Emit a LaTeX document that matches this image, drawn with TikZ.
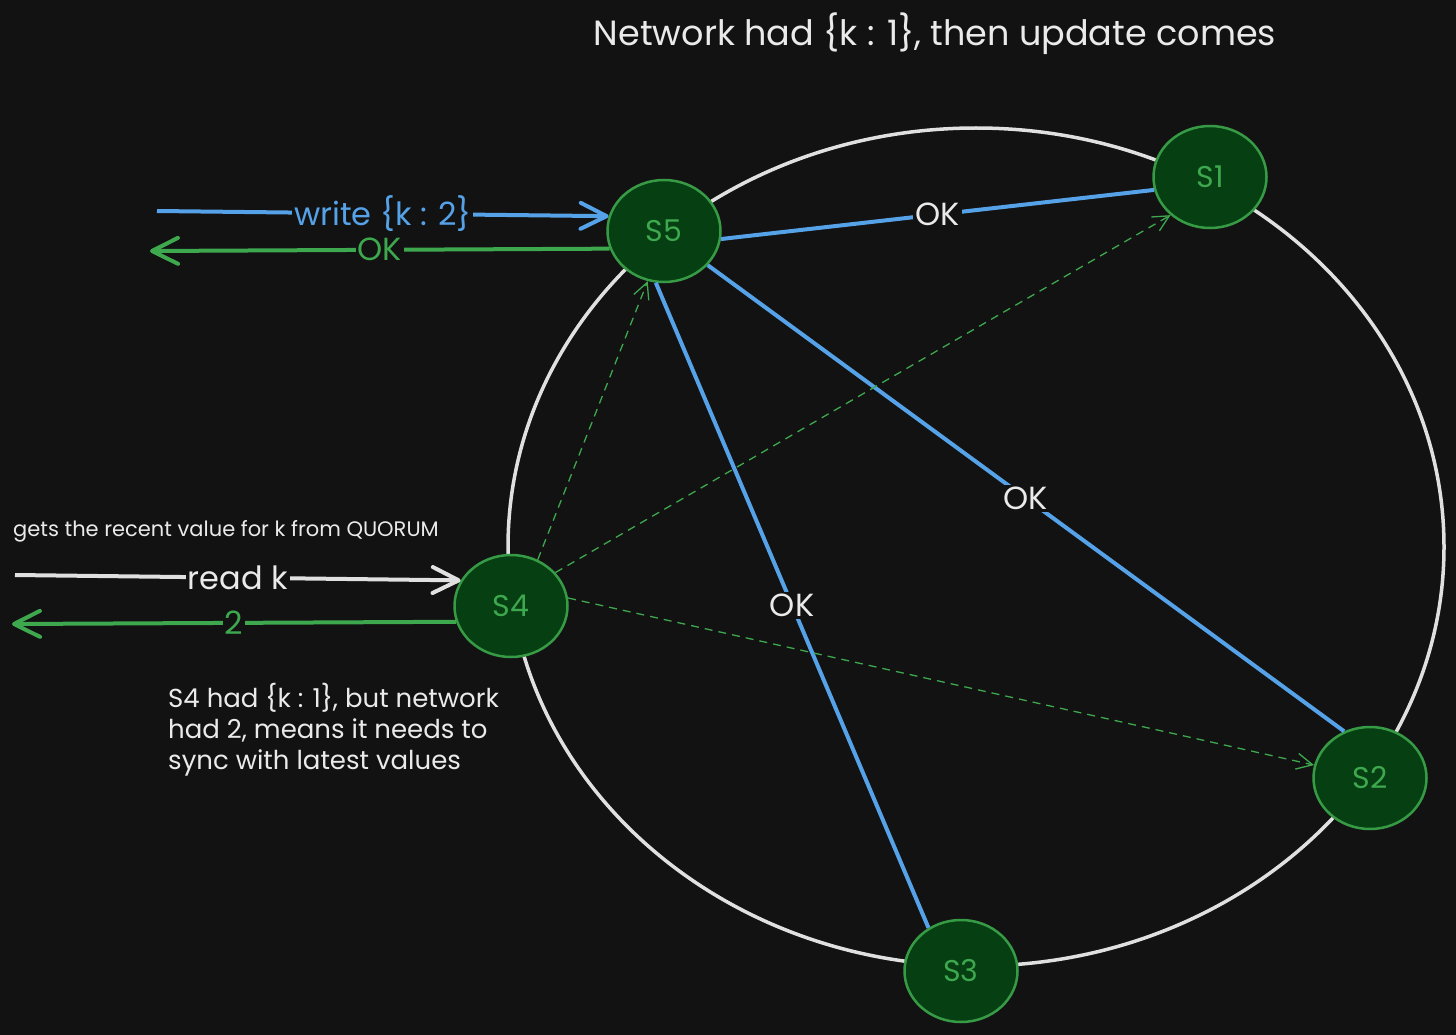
\documentclass[tikz,border=0pt]{standalone}
\usepackage{fontspec}
\setmainfont{Poppins}
\usetikzlibrary{arrows.meta,shapes.geometric}
\definecolor{bg}{HTML}{121212}
\definecolor{ringc}{HTML}{E0E0E0}
\definecolor{txt}{HTML}{EAEAEA}
\definecolor{nodefill}{HTML}{053F12}
\definecolor{nodeline}{HTML}{379B46}
\definecolor{grn}{HTML}{3EA84E}
\definecolor{blu}{HTML}{56A2E8}
\tikzset{
  server/.style={ellipse, draw=nodeline, line width=2.5pt, fill=nodefill,
    minimum width=113pt, minimum height=102pt, inner sep=0pt,
    text=grn, font=\fontsize{30}{34}\selectfont},
  bigtip/.style={-{Straight Barb[length=26pt,width=26pt,round]}},
  smalltip/.style={-{Straight Barb[length=16pt,width=16pt]}},
  oklink/.style={draw=blu, line width=4pt},
  gossip/.style={draw=grn, line width=1.3pt, dash pattern=on 8pt off 6pt, smalltip},
  lbl/.style={fill=bg, inner sep=2pt, font=\fontsize{32}{36}\selectfont},
  note/.style={text=txt, inner sep=0pt}
}
\begin{document}
\begin{tikzpicture}[x=1pt,y=-1pt]
\fill[bg] (0,0) rectangle (1456,1035);
\useasboundingbox (0,0) rectangle (1456,1035);

% ring
\draw[ringc, line width=3.5pt] (976,547) ellipse [x radius=468pt, y radius=419pt];

% servers
\node[server] (S5) at (664,231) {S5};
\node[server] (S1) at (1210,177) {S1};
\node[server] (S2) at (1370,778) {S2};
\node[server] (S3) at (961,971) {S3};
\node[server] (S4) at (511,606) {S4};

% client coordinates
\coordinate (wstart) at (157,211);
\coordinate (okend) at (150,251);
\coordinate (rstart) at (15,575);
\coordinate (vend) at (12,624);

% blue OK links
\draw[oklink] (S5.-8) -- node[lbl, text=txt] {OK} (S1.193);
\draw[oklink] (S5.-38) -- node[lbl, text=txt] {OK} (S2.119);
\draw[oklink] (S5.261) -- node[lbl, text=txt] {OK} (S3.127);

% dashed gossip
\draw[gossip] (S4.60) -- (S5.252);
\draw[gossip] (S4.37) -- (S1.224);
\draw[gossip] (S4.8) -- (S2.167);

% client arrows
\draw[blu, line width=4pt, bigtip] (wstart) -- node[lbl, text=blu] {write \{k : 2\}} (S5.165);
\draw[grn, line width=4pt, bigtip] (S5.198) -- node[lbl, text=grn] {OK} (okend);
\draw[ringc, line width=4pt, bigtip] (rstart) -- node[lbl, text=txt] {read k} (S4.153);
\draw[grn, line width=4pt, bigtip] (S4.196) -- node[lbl, text=grn] {2} (vend);

% texts
\node[note, font=\fontsize{35}{40}\selectfont] (title) at (935,34) {Network had \{k : 1\}, then update comes};
\node[note, font=\fontsize{21}{24}\selectfont] (quorum) at (226,531) {gets the recent value for k from QUORUM};
\node[note, anchor=north west, align=left, font=\fontsize{26}{31}\selectfont] (s4note) at (168,683)
  {S4 had \{k : 1\}, but network\\had 2, means it needs to\\sync with latest values};
\end{tikzpicture}
\end{document}
